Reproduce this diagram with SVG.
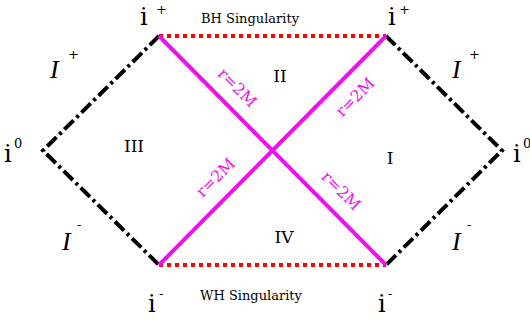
<svg xmlns="http://www.w3.org/2000/svg" width="530" height="320" viewBox="0 0 530 320">
<style>
.t{font-family:"DejaVu Serif","Liberation Serif",serif;fill:#000}
.scri{font-family:"Liberation Serif","DejaVu Serif",serif;font-style:italic;font-size:26px;fill:#000}
.ii{font-size:24px}
.sup{font-size:13px}
.rom{font-size:17px;text-anchor:middle}
.sing{font-size:13px;text-anchor:middle}
.hz{font-family:"DejaVu Serif","Liberation Serif",serif;font-size:16px;fill:#ee11ee;text-anchor:middle}
.scrai{fill:none;stroke:#000;stroke-width:4;stroke-dasharray:13 4 3 4;stroke-linejoin:miter}
.sing-l{fill:none;stroke:#ff0000;stroke-width:4;stroke-dasharray:4 4}
.hor{fill:none;stroke:#ee11ee;stroke-width:4}
</style>
<rect width="530" height="320" fill="#fff"/>
<g id="connectors">
<path class="scrai" d="M159,36 L43,150.5 L159,265"/>
<path class="scrai" d="M386,36 L502,150.5 L386,265"/>
<path class="sing-l" d="M159,36 H386"/>
<path class="sing-l" d="M159,265 H386"/>
<path class="hor" d="M159,36 L386,265"/>
<path class="hor" d="M386,36 L159,265"/>
</g>
<g id="horizon-labels">
<text class="hz" transform="translate(233.5,91.5) rotate(45)">r=2M</text>
<text class="hz" transform="translate(359,101) rotate(-45)">r=2M</text>
<text class="hz" transform="translate(219.4,181.4) rotate(-45)">r=2M</text>
<text class="hz" transform="translate(337.4,194.6) rotate(45)">r=2M</text>
</g>
<g id="i-plus-left"><text class="t ii" x="140" y="25">i</text><text class="t sup" x="156" y="14">+</text></g>
<g id="i-plus-right"><text class="t ii" x="388" y="25">i</text><text class="t sup" x="399" y="14">+</text></g>
<g id="i-zero-left"><text class="t ii" x="4" y="162">i</text><text class="t sup" x="14" y="148">0</text></g>
<g id="i-zero-right"><text class="t ii" x="513" y="162">i</text><text class="t sup" x="523" y="148">0</text></g>
<g id="i-minus-left"><text class="t ii" x="148" y="312">i</text><text class="t sup" x="159" y="298">-</text></g>
<g id="i-minus-right"><text class="t ii" x="378" y="312">i</text><text class="t sup" x="388" y="298">-</text></g>
<g id="bh"><text class="t sing" x="250" y="23">BH Singularity</text></g>
<g id="wh"><text class="t sing" x="251" y="300">WH Singularity</text></g>
<g id="region-II"><text class="t rom" x="280" y="82">II</text></g>
<g id="region-III"><text class="t rom" x="134" y="152">III</text></g>
<g id="region-I"><text class="t rom" x="390" y="164">I</text></g>
<g id="region-IV"><text class="t rom" x="284" y="243">IV</text></g>
<g id="scri-plus-left"><text class="scri" x="50" y="78">I</text><text class="t sup" x="68" y="59">+</text></g>
<g id="scri-plus-right"><text class="scri" x="452" y="78">I</text><text class="t sup" x="469" y="59">+</text></g>
<g id="scri-minus-left"><text class="scri" x="62" y="250">I</text><text class="t sup" x="77" y="229">-</text></g>
<g id="scri-minus-right"><text class="scri" x="452" y="250">I</text><text class="t sup" x="467" y="229">-</text></g>
</svg>
